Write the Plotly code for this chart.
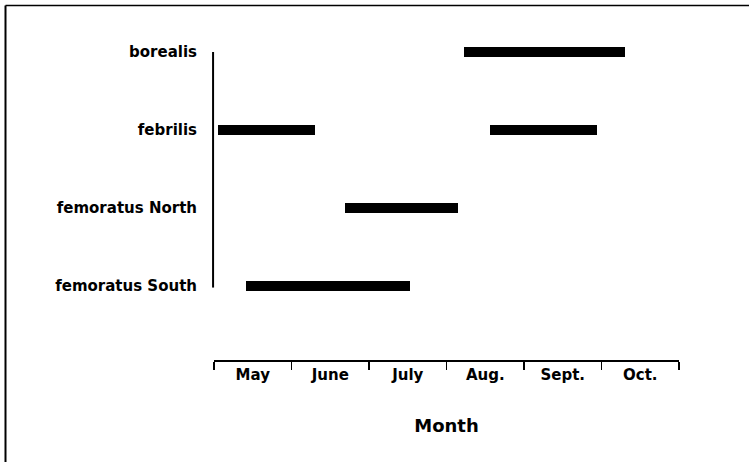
import plotly.graph_objects as go

# ---- data ----
species = ["femoratus South", "femoratus North", "febrilis", "borealis"]
months = ["May", "June", "July", "Aug.", "Sept.", "Oct."]
# activity periods in months since 1 May (start, end)
period_species = ["femoratus South", "femoratus North", "febrilis", "febrilis", "borealis"]
period_start = [0.41, 1.69, 0.05, 3.56, 3.23]
period_end = [2.53, 3.15, 1.30, 4.94, 5.30]

W, H = 749, 462
L, R = 214, 679          # x-axis pixel extents
T, B = 40, 360           # paper top / x-axis line
Y_TOP, Y_BOT = 52, 286   # first / last category centres
FONT = "DejaVu Sans"

fig = go.Figure()
fig.add_trace(go.Bar(
    y=period_species,
    x=[e - s for s, e in zip(period_start, period_end)],
    base=period_start,
    orientation="h",
    width=0.14,
    marker=dict(color="black", line=dict(width=0)),
    hoverinfo="skip",
    showlegend=False,
))

ph = B - T
step = (Y_BOT - Y_TOP) / 3
plot_bot = 300
y_dom0 = (B - plot_bot) / ph
fig.update_layout(
    width=W, height=H,
    margin=dict(l=L, r=W - R, t=T, b=H - B, pad=0),
    paper_bgcolor="white", plot_bgcolor="white",
    bargap=0,
    font=dict(family=FONT, size=15, color="black", weight="bold"),
    xaxis=dict(
        range=[0, 6],
        anchor="free", position=0,
        showgrid=False, zeroline=False,
        showline=True, linecolor="black", linewidth=1.5,
        tickmode="array",
        tickvals=[i + 0.5 for i in range(len(months))],
        ticktext=months,
        ticks="",
        ticklabelstandoff=0,
        tickfont=dict(family=FONT, size=15, color="black", weight="bold"),
        minor=dict(tickmode="array", tickvals=list(range(len(months) + 1)),
                   ticks="outside", ticklen=8, tickwidth=1.5, tickcolor="black",
                   showgrid=False),
        title=dict(text="Month", standoff=37,
                   font=dict(family=FONT, size=18, color="black", weight="bold")),
    ),
    yaxis=dict(
        domain=[y_dom0, 1],
        range=[-(plot_bot - Y_BOT) / step, 3 + (Y_TOP - T) / step],
        type="category",
        categoryorder="array", categoryarray=species,
        showgrid=False, zeroline=False, showline=False,
        ticks="",
        ticklabelstandoff=16,
        tickfont=dict(family=FONT, size=15, color="black", weight="bold"),
    ),
)

# y-axis line (from first to last category)
fig.add_shape(type="line", xref="paper", yref="y",
              x0=-0.002, x1=-0.002, y0=-0.02, y1=3.0,
              line=dict(color="black", width=2))
# figure frame (left and top borders)
fx = (5.5 - L) / (R - L)
fy = (B - 5.5) / ph
fig.add_shape(type="line", xref="paper", yref="paper",
              x0=fx, x1=fx, y0=fy, y1=(B - H - 5) / ph,
              line=dict(color="black", width=2))
fig.add_shape(type="line", xref="paper", yref="paper",
              x0=fx, x1=(W + 5 - L) / (R - L), y0=fy, y1=fy,
              line=dict(color="black", width=1.5))

fig.write_html("out.html",
               config={"displayModeBar": False, "staticPlot": True},
               post_script="document.body.style.margin='0';document.body.style.overflow='hidden';")
